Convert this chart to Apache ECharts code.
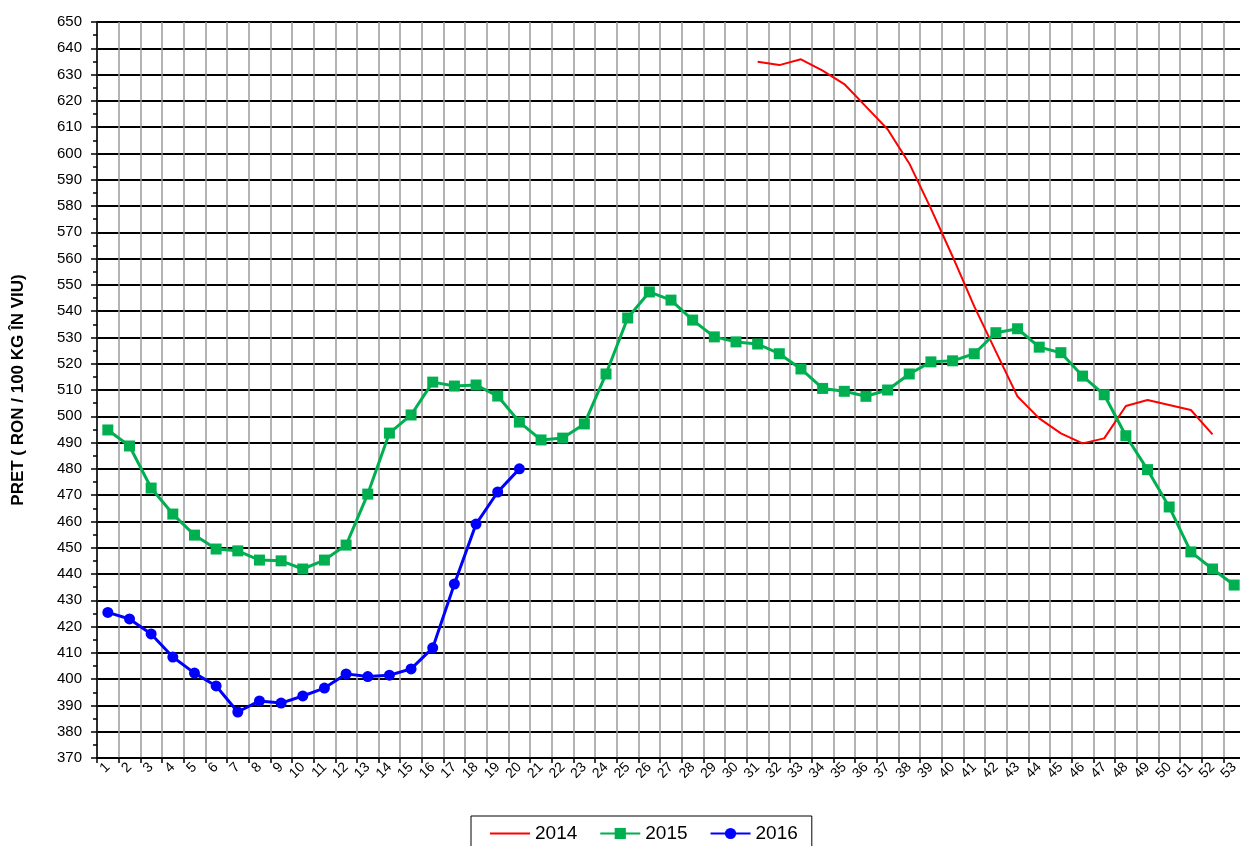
<!DOCTYPE html>
<html>
<head>
<meta charset="utf-8">
<script src="https://cdn.jsdelivr.net/npm/echarts@6/dist/echarts.min.js"></script>
<style>
html,body{margin:0;padding:0;background:#fff;}
#chart{width:1240px;height:846px;}
</style>
</head>
<body>
<div id="chart"></div>
<script>
// Weeks 1..53
const weeks = [];
for (let i = 1; i <= 53; i++) weeks.push(String(i));

// 2014: weeks 31..52
const s2014 = [
  null,null,null,null,null,null,null,null,null,null,
  null,null,null,null,null,null,null,null,null,null,
  null,null,null,null,null,null,null,null,null,null,
  634.9,633.6,635.8,631.5,626.4,617.8,609.2,596.2,579.0,560.8,
  541.8,524.6,507.5,499.2,493.5,489.7,491.6,503.9,506.2,504.3,
  502.4,493.1,null
];
// 2015: weeks 1..53
const s2015 = [
  494.8,488.7,472.7,462.8,454.8,449.5,448.8,445.3,445.0,441.9,
  445.3,451.0,470.4,493.6,500.5,513.0,511.5,511.9,507.7,497.8,
  491.0,491.7,497.1,516.1,537.4,547.3,544.2,536.6,530.2,528.3,
  527.5,523.8,518.0,510.6,509.5,507.6,510.0,516.1,520.7,521.1,
  523.8,531.8,533.3,526.3,524.2,515.3,508.2,492.6,479.7,465.5,
  448.4,441.9,435.8
];
// 2016: weeks 1..20
const s2016 = [
  425.4,422.9,417.2,408.4,402.3,397.4,387.5,391.7,390.9,393.6,
  396.6,402.0,401.0,401.5,403.9,411.9,436.2,459.0,471.2,480.0
];

const yTitle = 'PRET ( RON / 100 KG ÎN VIU)';
const names = ['2014', '2015', '2016'];

const chart = echarts.init(document.getElementById('chart'), null, {renderer: 'canvas'});
chart.setOption({
  animation: false,
  backgroundColor: '#fff',
  textStyle: {fontFamily: 'Liberation Sans, Arial, sans-serif'},
  grid: {left: 97, top: 22, width: 1148, height: 736, containLabel: false, outerBoundsMode: 'none'},
  legend: {
    data: [
      {name: names[0], itemStyle: {opacity: 0}},
      {name: names[1]},
      {name: names[2]}
    ],
    left: 471, top: 816,
    orient: 'horizontal',
    padding: [8, 14, 8, 18],
    itemGap: 22,
    itemWidth: 40, itemHeight: 14,
    borderColor: '#000', borderWidth: 1,
    textStyle: {fontSize: 19, color: '#000', fontFamily: 'Liberation Sans, Arial, sans-serif'}
  },
  xAxis: {
    type: 'category',
    data: weeks,
    boundaryGap: true,
    axisLine: {show: true, lineStyle: {color: '#000', width: 1.5}},
    axisTick: {show: true, interval: 0, length: 5, lineStyle: {color: '#000', width: 1.5}},
    axisLabel: {interval: 0, rotate: 45, fontSize: 14, color: '#000', margin: 7},
    splitLine: {show: true, interval: 0, lineStyle: {color: '#9a9a9a', width: 1.5}}
  },
  yAxis: {
    type: 'value',
    min: 370, max: 650, interval: 10,
    name: yTitle,
    nameLocation: 'middle',
    nameRotate: 90,
    nameGap: 70,
    nameTextStyle: {fontSize: 17, fontWeight: 'bold', color: '#000'},
    axisLine: {show: true, lineStyle: {color: '#000', width: 1.5}},
    axisTick: {show: true, length: 6, lineStyle: {color: '#000', width: 1.5}},
    minorTick: {show: true, splitNumber: 2, length: 4, lineStyle: {color: '#000', width: 1.5}},
    axisLabel: {fontSize: 15, color: '#000', margin: 15},
    splitLine: {show: true, lineStyle: {color: '#000', width: 2}}
  },
  series: [
    {
      name: '2014', type: 'line', data: s2014,
      symbol: 'none', showSymbol: false,
      connectNulls: false,
      lineStyle: {color: '#ff0000', width: 2},
      itemStyle: {color: '#ff0000'},
      z: 3
    },
    {
      name: '2015', type: 'line', data: s2015,
      symbol: 'rect', symbolSize: 11,
      lineStyle: {color: '#00b050', width: 3},
      itemStyle: {color: '#00b050'},
      z: 4
    },
    {
      name: '2016', type: 'line', data: s2016,
      symbol: 'circle', symbolSize: 11,
      lineStyle: {color: '#0000ff', width: 3},
      itemStyle: {color: '#0000ff'},
      z: 5
    }
  ]
});
</script>
</body>
</html>
